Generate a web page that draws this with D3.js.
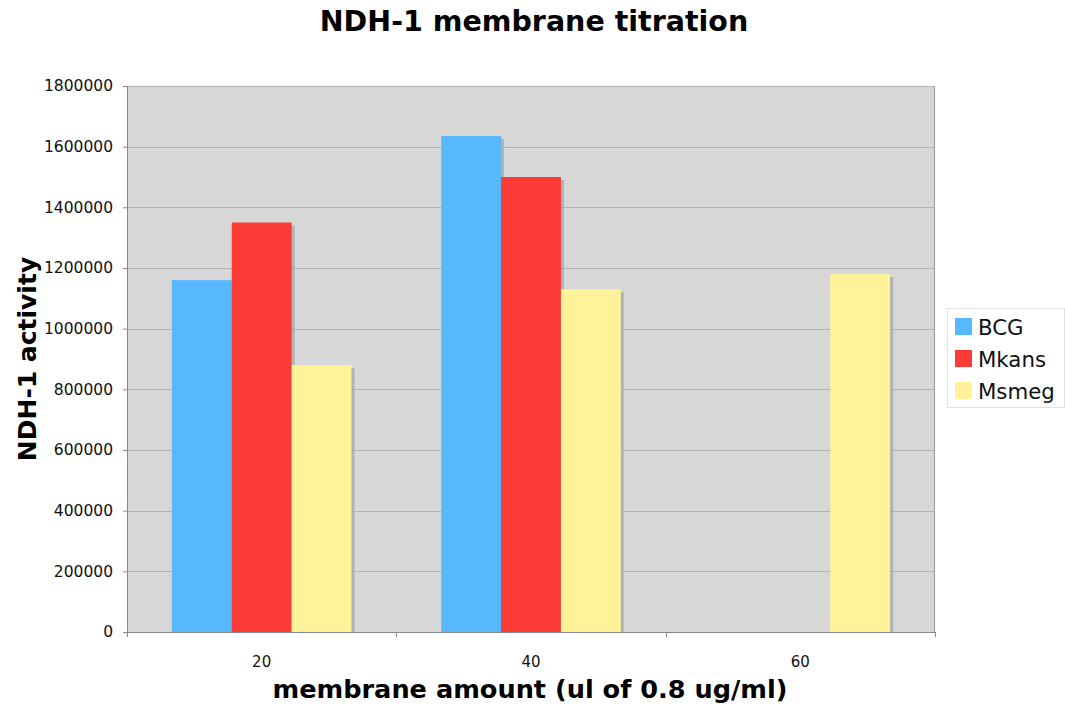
<!DOCTYPE html>
<html><head><meta charset="utf-8">
<script src="https://cdn.jsdelivr.net/npm/d3@7"></script>
<style>body{margin:0;background:#fff;} text{font-family:"DejaVu Sans",Verdana,sans-serif;}</style>
</head><body>
<svg id="chart" width="1065" height="709"></svg>
<script>
const categories = ["20", "40", "60"];
const seriesNames = ["BCG", "Mkans", "Msmeg"];
const BCG = [1160000, 1635000, null];
const Mkans = [1350000, 1500000, null];
const Msmeg = [880000, 1130000, 1180000];
const yTicks = [0, 200000, 400000, 600000, 800000, 1000000, 1200000, 1400000, 1600000, 1800000];
const colors = ["#58b8fe", "#fc3a36", "#fff299"];

const seriesValues = [BCG, Mkans, Msmeg];
const svg = d3.select("#chart");
const L = 127, R = 935, T = 86, B = 632;

const x = d3.scaleBand().domain(categories).range([L, R]).paddingInner(0).paddingOuter(0);
const xs = d3.scaleBand().domain(seriesNames).range([0, x.bandwidth()]).paddingInner(0).paddingOuter(0.75);
const y = d3.scaleLinear().domain([0, 1800000]).range([B, T]);

svg.append("rect").attr("x", L).attr("y", T).attr("width", R - L).attr("height", B - T).attr("fill", "#d7d7d7");
svg.append("g").selectAll("line").data(yTicks.filter(d => d > 0)).join("line")
  .attr("x1", L).attr("x2", R).attr("y1", d => Math.round(y(d)) + 0.5).attr("y2", d => Math.round(y(d)) + 0.5)
  .attr("stroke", "#b3b3b3").attr("stroke-width", 1);

const data = [];
categories.forEach((c, i) => seriesNames.forEach((s, j) => {
  const v = seriesValues[j][i];
  if (v != null) data.push({c, s, v, j});
}));
const gb = svg.append("g");
gb.selectAll("rect.sh").data(data).join("rect").attr("class", "sh")
  .attr("x", d => x(d.c) + xs(d.s) + 3).attr("y", d => y(d.v) + 3)
  .attr("width", xs.bandwidth()).attr("height", d => B - y(d.v) - 3)
  .attr("fill", "#a9a9a9").attr("opacity", 0.8);
gb.selectAll("rect.bar").data(data).join("rect").attr("class", "bar")
  .attr("x", d => x(d.c) + xs(d.s)).attr("y", d => y(d.v))
  .attr("width", xs.bandwidth()).attr("height", d => B - y(d.v))
  .attr("fill", d => colors[d.j]);

svg.append("line").attr("x1", L + 0.5).attr("x2", L + 0.5).attr("y1", T).attr("y2", B).attr("stroke", "#888");
svg.append("line").attr("x1", R - 0.5).attr("x2", R - 0.5).attr("y1", T).attr("y2", B).attr("stroke", "#999");

const ya = svg.append("g").attr("transform", `translate(${L},0)`)
  .call(d3.axisLeft(y).tickValues(yTicks).tickSize(4).tickPadding(10).tickFormat(d3.format("d")));
ya.select(".domain").remove();
ya.selectAll(".tick line").attr("stroke", "#888");
ya.selectAll("text").attr("font-size", 15.5).attr("fill", "#111").style("font-family", '"DejaVu Sans",Verdana,sans-serif');

const xa = svg.append("g").attr("transform", `translate(0,${B})`);
xa.append("line").attr("x1", L - 4).attr("x2", R).attr("y1", 0.5).attr("y2", 0.5).attr("stroke", "#888");
const xEdges = categories.map(c => x(c)).concat([x(categories[categories.length - 1]) + x.bandwidth()]);
xa.selectAll("line.t").data(xEdges).join("line").attr("class", "t")
  .attr("x1", d => Math.round(d) + 0.5).attr("x2", d => Math.round(d) + 0.5).attr("y1", 0).attr("y2", 5).attr("stroke", "#888");
xa.selectAll("text").data(categories).join("text")
  .attr("x", d => x(d) + x.bandwidth() / 2).attr("y", 35).attr("text-anchor", "middle")
  .attr("font-size", 15).attr("fill", "#111").text(d => d);

svg.append("text").attr("x", 534).attr("y", 31).attr("text-anchor", "middle")
  .attr("font-size", 28.5).attr("font-weight", "bold").text("NDH-1 membrane titration");
svg.append("text").attr("x", 530).attr("y", 698).attr("text-anchor", "middle")
  .attr("font-size", 25.6).attr("font-weight", "bold").text("membrane amount (ul of 0.8 ug/ml)");
svg.append("text").attr("transform", "translate(36,359) rotate(-90)").attr("text-anchor", "middle")
  .attr("font-size", 25).attr("font-weight", "bold").text("NDH-1 activity");

const lg = svg.append("g").attr("transform", "translate(947,308)");
lg.append("rect").attr("x", 0.5).attr("y", 0.5).attr("width", 117).attr("height", 99).attr("fill", "#fff").attr("stroke", "#e2e2e2");
const li = lg.selectAll("g").data(seriesNames).join("g").attr("transform", (d, i) => `translate(8,${10 + i * 32})`);
li.append("rect").attr("width", 17).attr("height", 17).attr("fill", (d, i) => colors[i]);
li.append("text").attr("x", 23).attr("y", 17).attr("font-size", 21.3).attr("fill", "#111").text(d => d);
</script>
</body></html>
